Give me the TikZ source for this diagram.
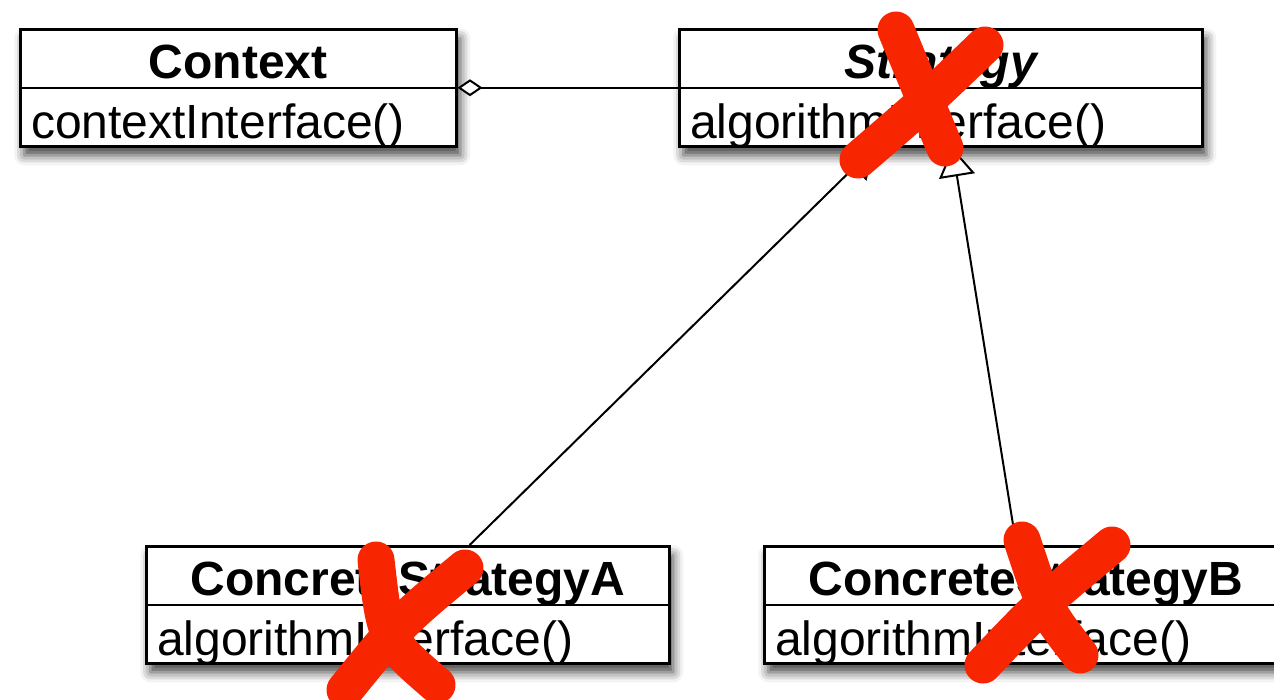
\documentclass[tikz,border=0pt]{standalone}
\usepackage{fontspec}
\setmainfont{Liberation Sans}
\usetikzlibrary{arrows.meta,shadows.blur}
\definecolor{xred}{RGB}{247,38,0}
\begin{document}
\begin{tikzpicture}[x=1pt,y=-1pt,
                        cls/.style={draw, line width=2.5pt, fill=white, minimum height=117pt, inner sep=0pt, anchor=north west,
                                blur shadow={shadow xshift=4pt, shadow yshift=-9pt, shadow blur radius=10pt, shadow opacity=75}},
                        head/.style={anchor=north, inner sep=0pt, text height=50pt, text depth=8pt, font=\fontsize{48}{48}\selectfont\bfseries},
                        op/.style={anchor=south west, inner xsep=12pt, inner ysep=0pt, text depth=9pt, font=\fontsize{48}{48}\selectfont},
                        sep/.style={line width=2.5pt},
                        agg/.style={line width=2pt, -{Diamond[open,fill=white,length=25pt,width=17pt]}},
                        inh/.style={line width=2pt, -{Triangle[open,fill=white,length=29pt,width=36pt]}},
                        cross/.style={draw=xred, line width=37pt, line cap=round},
                        ]
                        \useasboundingbox (0,0) rectangle (1274,699);
                        %Klassen
                        \node [cls, minimum width=436pt] (ctx) at (19,28) {};
                        \node [cls, minimum width=523pt] (strat) at (678,28) {};
                        \node [cls, minimum width=523pt] (csa) at (145,545) {};
                        \node [cls, minimum width=523pt] (csb) at (763,545) {};
                        \foreach \c in {ctx, strat, csa, csb}
                        \draw [sep] (\c.west) -- (\c.east);
                        %Beschriftung
                        \node [head] (ctxname) at (ctx.north) {Context};
                        \node [head] (stratname) at (strat.north) {\itshape Strategy};
                        \node [head] (csaname) at (csa.north) {ConcreteStrategyA};
                        \node [head] (csbname) at (csb.north) {ConcreteStrategyB};
                        \node [op] (ctxop) at (ctx.south west) {contextInterface()};
                        \node [op] (stratop) at (strat.south west) {algorithmInterface()};
                        \node [op] (csaop) at (csa.south west) {algorithmInterface()};
                        \node [op] (csbop) at (csb.south west) {algorithmInterface()};
                        %Beziehungen
                        \draw [agg] (strat.west) -- (ctx.east);
                        \draw [inh] (csa.44) -- (strat.-138);
                        \draw [inh] (csb.99) -- (strat.-79);
                        %Kreuze
                        \draw [cross] (896,30) .. controls (920,88) .. (945,148);
                        \draw [cross] (985,45) .. controls (930,98) .. (858,160);
                        \draw [cross] (376,560) .. controls (385,640) .. (437,685);
                        \draw [cross] (465,568) .. controls (400,622) .. (345,690);
                        \draw [cross] (1022,540) .. controls (1045,610) .. (1080,655);
                        \draw [cross] (1112,545) .. controls (1040,605) .. (983,665);
                \end{tikzpicture}
\end{document}
